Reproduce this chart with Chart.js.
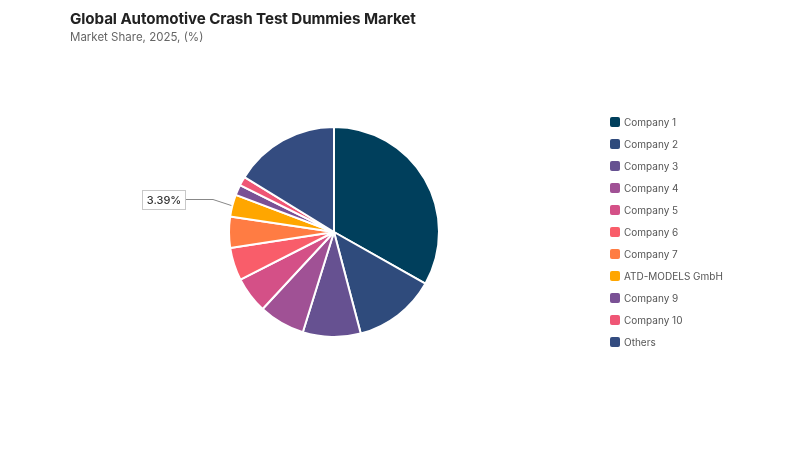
<!DOCTYPE html>
<html><head><meta charset="utf-8">
<script src="https://cdn.jsdelivr.net/npm/chart.js@4"></script>
<style>
html,body{margin:0;padding:0;background:#fff;}
#wrap{position:relative;width:800px;height:450px;}
#title{position:absolute;left:70px;top:9px;font-family:Inter,"Noto Sans",sans-serif;font-weight:700;font-size:15.2px;color:#222;letter-spacing:-0.1px;}
#sub{position:absolute;left:70px;top:30px;font-family:Inter,"Noto Sans",sans-serif;font-size:11.5px;color:#666;}
canvas{position:absolute;left:0;top:0;}
</style></head>
<body><div id="wrap">
<canvas id="c" width="800" height="450"></canvas>
<div id="title">Global Automotive Crash Test Dummies Market</div>
<div id="sub">Market Share, 2025, (%)</div>
</div>
<script>
const categories = ["Company 1","Company 2","Company 3","Company 4","Company 5","Company 6","Company 7","ATD-MODELS GmbH","Company 9","Company 10","Others"];
const shares = [33.2,12.7,8.9,7.1,5.6,5.06,4.8,3.39,1.6,1.4,16.25];
const colors = ["#003f5c","#2f4b7c","#665191","#a05195","#d45087","#f95d6a","#ff7c43","#ffa600","#7a5195","#ef5675","#344c80"];
const labelledIndex = 7;
const labelText = "3.39%";

const legendPlugin = {
  id:'customLegend',
  afterDraw(chart){
    const ctx = chart.ctx;
    ctx.save();
    ctx.font = '10px Inter, "Noto Sans", sans-serif';
    ctx.textBaseline = 'middle';
    chart.data.labels.forEach((lab,i)=>{
      const y = 122 + i*22;
      ctx.fillStyle = chart.data.datasets[0].backgroundColor[i];
      ctx.beginPath();
      ctx.roundRect(610, y-5, 10, 10, 2);
      ctx.fill();
      ctx.fillStyle = '#555';
      ctx.fillText(lab, 624, y+0.5);
    });
    ctx.restore();
  }
};
const calloutPlugin = {
  id:'callout',
  afterDraw(chart){
    const arc = chart.getDatasetMeta(0).data[labelledIndex];
    if(!arc) return;
    const p = arc.getProps(['x','y','startAngle','endAngle','outerRadius'],true);
    const mid = (p.startAngle+p.endAngle)/2;
    const ax = p.x + Math.cos(mid)*p.outerRadius;
    const ay = p.y + Math.sin(mid)*p.outerRadius;
    const ctx = chart.ctx;
    ctx.save();
    ctx.strokeStyle = '#888'; ctx.lineWidth = 1;
    ctx.beginPath();
    ctx.moveTo(ax-1, ay);
    ctx.lineTo(213, 199.5);
    ctx.lineTo(185, 199.5);
    ctx.stroke();
    ctx.fillStyle='#fff';
    ctx.fillRect(142.5,190.5,43,19);
    ctx.strokeStyle='#c8c8c8';
    ctx.strokeRect(142.5,190.5,43,19);
    ctx.fillStyle='#333';
    ctx.font='500 11px Inter, "Noto Sans", sans-serif';
    ctx.textAlign='center'; ctx.textBaseline='middle';
    ctx.fillText(labelText,164,200.5);
    ctx.restore();
  }
};
new Chart(document.getElementById('c'),{
  type:'pie',
  data:{labels:categories,datasets:[{data:shares,backgroundColor:colors,borderColor:'#fff',borderWidth:2}]},
  options:{
    responsive:false,animation:false,
    layout:{padding:{left:228,right:360,top:126,bottom:112}},
    plugins:{legend:{display:false},tooltip:{enabled:false}}
  },
  plugins:[legendPlugin,calloutPlugin]
});
</script>
</body></html>
